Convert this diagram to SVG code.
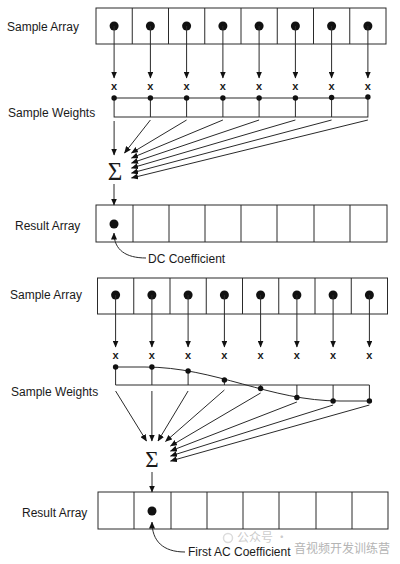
<svg xmlns="http://www.w3.org/2000/svg" width="400" height="564" viewBox="0 0 400 564">
<defs>
<style>
.lbl{font-family:"Liberation Sans",Arial,sans-serif;font-size:12px;fill:#1a1a1a}
.x{font-family:"Liberation Sans",Arial,sans-serif;font-size:11px;font-weight:bold;fill:#1a1a1a;text-anchor:middle}
.sig{font-family:"Liberation Serif","Times New Roman",serif;fill:#1a1a1a;text-anchor:middle}
.box{fill:none;stroke:#2a2a2a;stroke-width:1}
.ln{fill:none;stroke:#2a2a2a;stroke-width:1}
.ar{fill:none;stroke:#2a2a2a;stroke-width:1;marker-end:url(#ah)}
.dot{fill:#111}
.wm{font-family:"Noto Sans CJK SC",sans-serif;font-size:12px;fill:#b4b4b4}
</style>
<marker id="ah" markerUnits="userSpaceOnUse" markerWidth="7" markerHeight="6" refX="6.5" refY="3" orient="auto">
<path d="M0,0 L7,3 L0,6 z" fill="#111"/>
</marker>
</defs>
<rect width="400" height="564" fill="#fff"/>

<!-- ===== Top section ===== -->
<g id="top-sample-array">
<text class="lbl" x="7" y="31">Sample Array</text>
<rect class="box" x="96" y="8" width="290" height="36"/>
<path class="ln" d="M132.25,8V44M168.5,8V44M204.75,8V44M241,8V44M277.25,8V44M313.5,8V44M349.75,8V44"/>
<g class="dot">
<circle cx="114.1" cy="26" r="4.5"/><circle cx="150.4" cy="26" r="4.5"/><circle cx="186.6" cy="26" r="4.5"/><circle cx="222.9" cy="26" r="4.5"/>
<circle cx="259.1" cy="26" r="4.5"/><circle cx="295.4" cy="26" r="4.5"/><circle cx="331.6" cy="26" r="4.5"/><circle cx="367.9" cy="26" r="4.5"/>
</g>
</g>
<g id="top-multiply">
<text class="x" x="114.1" y="90">x</text><text class="x" x="150.4" y="90">x</text><text class="x" x="186.6" y="90">x</text><text class="x" x="222.9" y="90">x</text>
<text class="x" x="259.1" y="90">x</text><text class="x" x="295.4" y="90">x</text><text class="x" x="331.6" y="90">x</text><text class="x" x="367.9" y="90">x</text>
</g>
<g id="top-sample-weights">
<text class="lbl" x="8" y="117">Sample Weights</text>
<rect class="box" x="114.1" y="98" width="253.8" height="19"/>
<path class="ln" d="M150.4,98V117M186.6,98V117M222.9,98V117M259.1,98V117M295.4,98V117M331.6,98V117"/>
<g class="dot">
<circle cx="114.1" cy="98" r="2.7"/><circle cx="150.4" cy="98" r="2.7"/><circle cx="186.6" cy="98" r="2.7"/><circle cx="222.9" cy="98" r="2.7"/>
<circle cx="259.1" cy="98" r="2.7"/><circle cx="295.4" cy="98" r="2.7"/><circle cx="331.6" cy="97.5" r="2.7"/><circle cx="367.9" cy="97" r="2.7"/>
</g>
</g>
<g id="top-sum">
<text class="sig" x="115" y="180" font-size="25">Σ</text>
</g>
<g id="top-result-array">
<text class="lbl" x="15" y="230">Result Array</text>
<rect class="box" x="96" y="205" width="291" height="37"/>
<path class="ln" d="M133,205V242M169,205V242M205,205V242M241,205V242M277,205V242M314,205V242M350,205V242"/>
<circle class="dot" cx="114" cy="224" r="4.5"/>
</g>
<g id="top-dc-label">
<text class="lbl" x="148" y="263">DC Coefficient</text>
</g>

<!-- ===== Bottom section ===== -->
<g id="bot-sample-array">
<text class="lbl" x="10" y="299">Sample Array</text>
<rect class="box" x="97.5" y="278" width="290" height="36"/>
<path class="ln" d="M133.75,278V314M170,278V314M206.25,278V314M242.5,278V314M278.75,278V314M315,278V314M351.25,278V314"/>
<g class="dot">
<circle cx="115.6" cy="295" r="4.5"/><circle cx="151.9" cy="295" r="4.5"/><circle cx="188.1" cy="295" r="4.5"/><circle cx="224.4" cy="295" r="4.5"/>
<circle cx="260.6" cy="295" r="4.5"/><circle cx="296.9" cy="295" r="4.5"/><circle cx="333.1" cy="295" r="4.5"/><circle cx="369.4" cy="295" r="4.5"/>
</g>
</g>
<g id="bot-multiply">
<text class="x" x="115.6" y="359">x</text><text class="x" x="151.9" y="359">x</text><text class="x" x="188.1" y="359">x</text><text class="x" x="224.4" y="359">x</text>
<text class="x" x="260.6" y="359">x</text><text class="x" x="296.9" y="359">x</text><text class="x" x="333.1" y="359">x</text><text class="x" x="369.4" y="359">x</text>
</g>
<g id="bot-sample-weights">
<text class="lbl" x="11" y="396">Sample Weights</text>
<path class="ln" d="M115.6,385H369.4"/>
<path class="ln" d="M115.6,367V385M151.9,367V385M188.1,371V385M224.4,380V385M260.6,385V388M296.9,385V398M333.1,385V401M369.4,385V401"/>
<path class="ln" d="M115.6,367 L145,367 C215,367 270,401 340,401 L369.4,401"/>
<g class="dot">
<circle cx="115.6" cy="367" r="2.7"/><circle cx="151.9" cy="367" r="2.7"/><circle cx="188.1" cy="371" r="2.7"/><circle cx="224.4" cy="380" r="2.7"/>
<circle cx="260.6" cy="388.5" r="2.7"/><circle cx="296.9" cy="397.5" r="2.7"/><circle cx="333.1" cy="401" r="2.7"/><circle cx="369.4" cy="401" r="2.7"/>
</g>
</g>
<g id="bot-sum">
<text class="sig" x="152" y="467" font-size="23">Σ</text>
</g>
<g id="bot-result-array">
<text class="lbl" x="22" y="517">Result Array</text>
<rect class="box" x="98" y="492" width="290" height="37"/>
<path class="ln" d="M134,492V529M171,492V529M207,492V529M243,492V529M279,492V529M316,492V529M352,492V529"/>
<circle class="dot" cx="152" cy="511" r="4.5"/>
</g>
<g id="bot-ac-label">
<text class="lbl" x="188" y="556">First AC Coefficient</text>
</g>

<g id="watermark">
<circle cx="228" cy="538" r="4.5" fill="none" stroke="#dcdcdc" stroke-width="1.5"/>
<text class="wm" x="237" y="542" fill-opacity="0.7">公众号 ·</text>
<text class="wm" x="294" y="553">音视频开发训练营</text>
</g>

<!-- ===== Connectors ===== -->
<g id="connectors">
<path class="ar" d="M114.1,26V78"/><path class="ar" d="M150.4,26V78"/><path class="ar" d="M186.6,26V78"/><path class="ar" d="M222.9,26V78"/>
<path class="ar" d="M259.1,26V78"/><path class="ar" d="M295.4,26V78"/><path class="ar" d="M331.6,26V78"/><path class="ar" d="M367.9,26V78"/>
<path class="ar" d="M114.1,121V155"/>
<path class="ar" d="M150.4,120L124.5,153"/>
<path class="ar" d="M186.6,120L131.5,153"/>
<path class="ar" d="M222.9,120L131.5,158"/>
<path class="ar" d="M259.1,120L131.5,163"/>
<path class="ar" d="M295.4,120L131.5,168"/>
<path class="ar" d="M331.6,120L131.5,173"/>
<path class="ar" d="M367.9,120L131.5,178"/>
<path class="ar" d="M114,184V205"/>
<path class="ar" d="M146,258 C126,258 114,250 114,233"/>

<path class="ar" d="M115.6,295V347"/><path class="ar" d="M151.9,295V347"/><path class="ar" d="M188.1,295V347"/><path class="ar" d="M224.4,295V347"/>
<path class="ar" d="M260.6,295V347"/><path class="ar" d="M296.9,295V347"/><path class="ar" d="M333.1,295V347"/><path class="ar" d="M369.4,295V347"/>
<path class="ar" d="M115.6,391L146.5,441"/>
<path class="ar" d="M151.9,391V441"/>
<path class="ar" d="M188.1,391L158,441"/>
<path class="ar" d="M224.4,390L165.5,441.5"/>
<path class="ar" d="M260.6,393L170.5,446"/>
<path class="ar" d="M296.9,402L170.5,451"/>
<path class="ar" d="M333.1,405L170.5,456"/>
<path class="ar" d="M369.4,405L170.5,461"/>
<path class="ar" d="M152,472V492"/>
<path class="ar" d="M185,552 C163,552 152,541 152,522"/>
</g>
</svg>
